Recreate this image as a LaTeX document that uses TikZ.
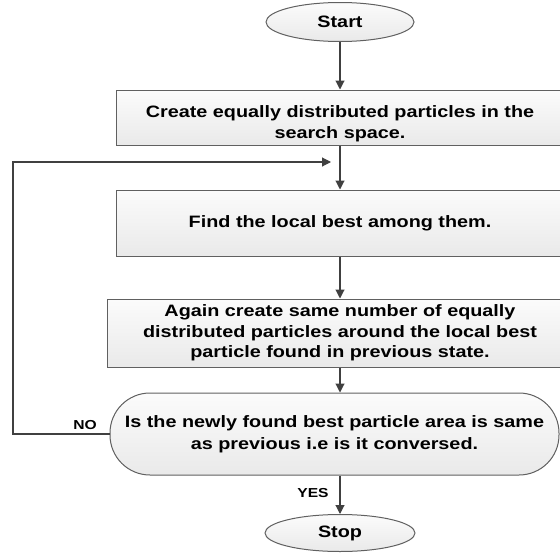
\documentclass[tikz,border=0pt]{standalone}
\usepackage{fontspec}
\setmainfont[FakeStretch=1.2]{Liberation Sans}
\usetikzlibrary{arrows.meta,shapes.geometric}
\begin{document}
\begin{tikzpicture}[x=1pt,y=-1pt,
  box/.style={draw=gray!75!black, line width=1pt, top color=gray!3, bottom color=gray!17,
    align=center, font=\bfseries\fontsize{16.5}{20.5}\selectfont, inner sep=0pt},
  term/.style={box, ellipse},
  conn/.style={draw=black!75, line width=1.1pt, -{Triangle[width=9pt,length=9pt]}},
  lab/.style={font=\bfseries\fontsize{13}{15}\selectfont, inner sep=0pt}]
\useasboundingbox (0,0) rectangle (560,554);
\clip (0,0) rectangle (560,554);
\node[term, minimum width=148pt, minimum height=39pt] (start) at (340,22) {Start};
\node[box, minimum width=448pt, minimum height=55pt] (r1) at (340,117.5)
  {\rule{0pt}{24pt}Create equally distributed particles in the\\search space.};
\node[box, minimum width=448pt, minimum height=66pt] (r2) at (340,223)
  {Find the local best among them.};
\node[box, minimum width=466pt, minimum height=68pt] (r3) at (340,333)
  {Again create same number of equally\\distributed particles around the local best\\particle found in previous state.};
\node[box, rounded corners=40pt, minimum width=449pt, minimum height=82pt, font=\bfseries\fontsize{16.5}{22}\selectfont] (d) at (334.5,434)
  {Is the newly found best particle area is same\\as previous i.e is it conversed.};
\node[term, minimum width=150pt, minimum height=37pt] (stop) at (340,533) {Stop};
\coordinate (lx) at (13,162);
\coordinate (fb) at (331,162);
\draw[conn] (start) -- (start |- r1.north);
\draw[conn] (r1) -- (r2);
\draw[conn] (r2) -- (r3);
\draw[conn] (r3.south) -- (r3.south |- d.north);
\draw[conn] (stop |- d.south) -- (stop);
\draw[conn] (d.west) -| (lx) -- (fb);
\node[lab] (no) at (85,425) {NO};
\node[lab] (yes) at (313,493) {YES};
\end{tikzpicture}
\end{document}
